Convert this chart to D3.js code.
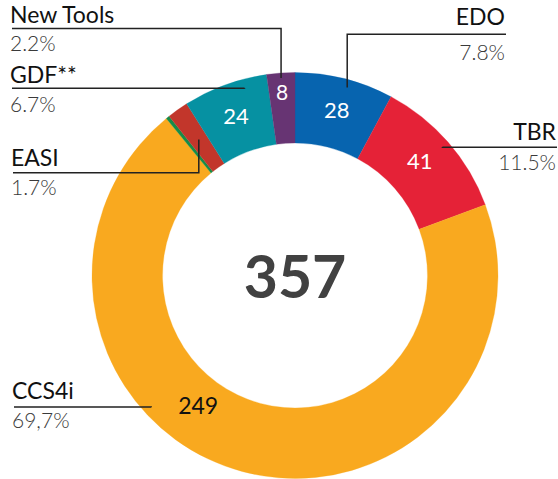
<!DOCTYPE html>
<html>
<head>
<meta charset="utf-8">
<script src="https://cdn.jsdelivr.net/npm/d3@7"></script>
<style>
  html, body { margin: 0; padding: 0; background: #fff; }
  svg { display: block; }
</style>
</head>
<body>
<div id="chart"></div>
<script>
// ---- data ----
const categories = ["EDO", "TBR", "CCS4i", "Other", "EASI", "GDF**", "New Tools"];
const values = [28, 41, 249, 1, 6, 24, 8];
const percentLabels = ["7.8%", "11.5%", "69,7%", "", "1.7%", "6.7%", "2.2%"];
const totalLabel = "357";
const colors = ["#0764AF", "#E52237", "#F9A91F", "#168C48", "#C2362B", "#0691A2", "#673473"];

// ---- layout (annotation placement, not data) ----
const W = 558, H = 479;
const cx = 295, cy = 275.5;
const rOuter = 203, rInner = 132.5;
// value-label placement: fraction along slice, radius, font size, colour
const valueLabelLayout = {
  0: { t: 0.5, r: 171, size: 22, fill: "#fff" },
  1: { t: 0.46, r: 170, size: 22, fill: "#fff" },
  2: { t: 0.586, r: 162, size: 23, fill: "#111" },
  4: null,
  5: { t: 0.5, r: 171, size: 22, fill: "#fff" },
  6: { t: 0.5, r: 184, size: 21, fill: "#fff" }
};
// callouts: text position and leader anchor (fraction along slice, radius)
const callouts = [
  { i: 6, side: "left",  x: 10,  nameY: 23,  lineY: 28.5,  pctY: 50.5, t: 0.5,  r: 198 },
  { i: 5, side: "left",  x: 10,  nameY: 83,  lineY: 88.3,  pctY: 111.5, t: 0.71, r: 194 },
  { i: 4, side: "left",  x: 11,  nameY: 165.5, lineY: 172.7, pctY: 195, t: 0.5,  r: 166.5 },
  { i: 2, side: "left",  x: 12,  nameY: 399, lineY: 407,   pctY: 428, t: 0.629, r: 195 },
  { i: 0, side: "right", x: 505, nameY: 25,  lineY: 34.3,  pctY: 60,  t: 0.55, r: 195 },
  { i: 1, side: "right", x: 556, nameY: 140, lineY: 147.3, pctY: 169.5, t: 0.5, r: 195.6 }
];

const FONT = "Lato, 'Noto Sans', sans-serif";

const svg = d3.select("#chart").append("svg")
  .attr("width", W).attr("height", H);

const pie = d3.pie().sort(null).value(d => d).startAngle(0).endAngle(2 * Math.PI);
const arcs = pie(values);
const arc = d3.arc().innerRadius(rInner).outerRadius(rOuter);

const g = svg.append("g").attr("transform", `translate(${cx},${cy})`);

g.selectAll("path.slice").data(arcs).enter().append("path")
  .attr("class", "slice")
  .attr("d", arc)
  .attr("fill", (d, i) => colors[i])
  .attr("stroke", (d, i) => colors[i])
  .attr("stroke-width", 0.3);

function polar(a, r) { return [r * Math.sin(a), -r * Math.cos(a)]; }
function angleAt(d, t) { return d.startAngle + (d.endAngle - d.startAngle) * t; }

// value labels
arcs.forEach((d, i) => {
  const L = valueLabelLayout[i];
  if (!L) return;
  const [x, y] = polar(angleAt(d, L.t), L.r);
  g.append("text")
    .attr("x", x).attr("y", y)
    .attr("text-anchor", "middle")
    .attr("dominant-baseline", "central")
    .attr("font-family", FONT)
    .attr("font-size", L.size)
    .attr("fill", L.fill)
    .text(values[i]);
});

// center total
g.append("text")
  .attr("x", 0).attr("y", 0)
  .attr("text-anchor", "middle")
  .attr("dominant-baseline", "central")
  .attr("font-family", FONT)
  .attr("font-weight", 700)
  .attr("font-size", 59)
  .attr("fill", "#414141")
  .text(totalLabel);

// callouts
callouts.forEach(c => {
  const d = arcs[c.i];
  const [ax, ay] = polar(angleAt(d, c.t), c.r);
  const axAbs = cx + ax, ayAbs = cy + ay;
  const startX = c.side === "left" ? c.x + 2 : c.x + 1;
  svg.append("path")
    .attr("d", `M${startX},${c.lineY}H${axAbs}V${ayAbs}`)
    .attr("fill", "none")
    .attr("stroke", "#222")
    .attr("stroke-width", 1.5);
  const anchor = c.side === "left" ? "start" : "end";
  svg.append("text")
    .attr("x", c.x).attr("y", c.nameY)
    .attr("text-anchor", anchor)
    .attr("font-family", FONT)
    .attr("font-size", 23)
    .attr("fill", "#111")
    .text(categories[c.i]);
  svg.append("text")
    .attr("x", c.x).attr("y", c.pctY)
    .attr("text-anchor", anchor)
    .attr("font-family", FONT)
    .attr("font-weight", 300)
    .attr("font-size", 21)
    .attr("fill", "#3a3a3a")
    .text(percentLabels[c.i]);
});
</script>
</body>
</html>
